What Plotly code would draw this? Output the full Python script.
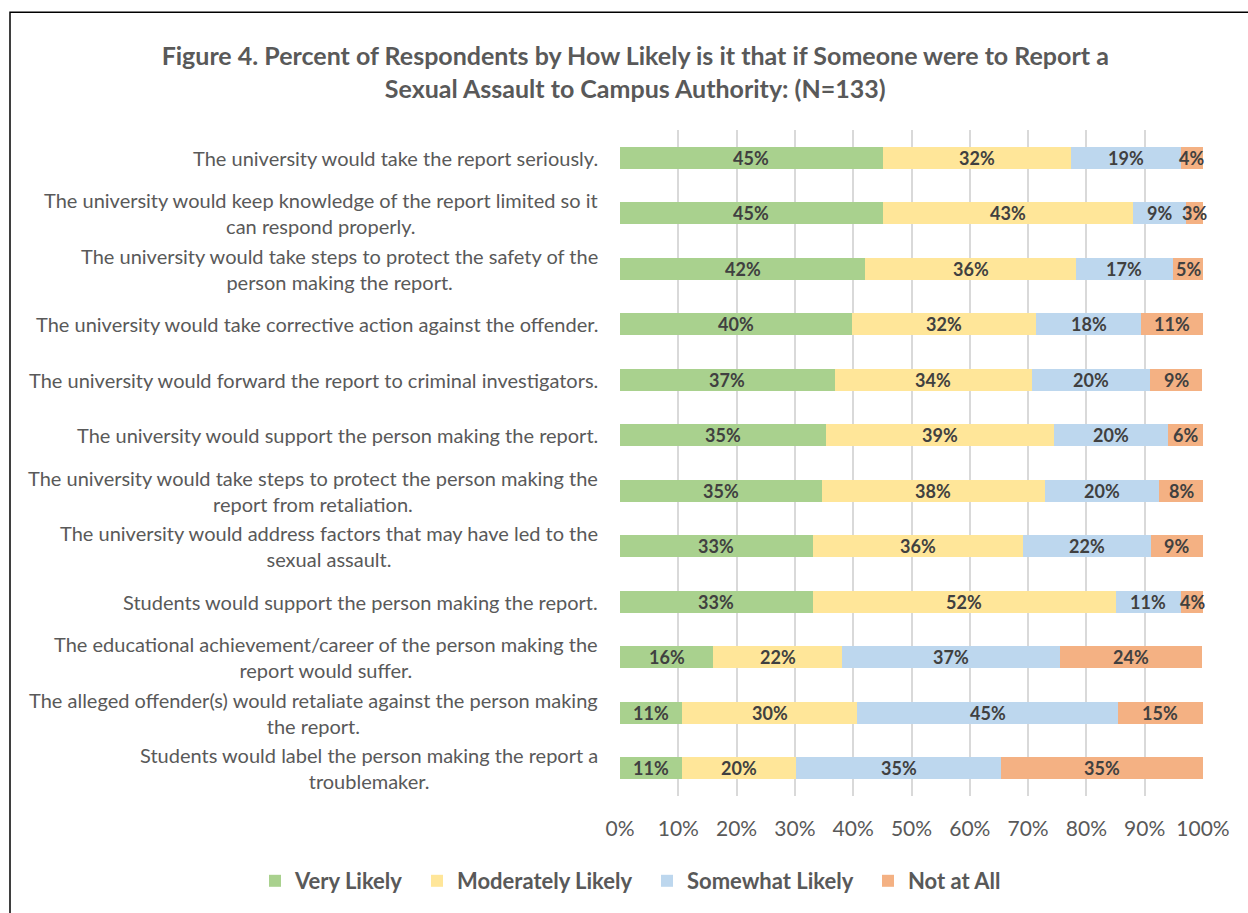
import plotly.graph_objects as go

categories = [
    "The university would take the report seriously.",
    "The university would keep knowledge of the report limited so it<br>can respond properly.",
    "The university would take steps to protect the safety of the<br>person making the report.",
    "The university would take corrective action against the offender.",
    "The university would forward the report to criminal investigators.",
    "The university would support the person making the report.",
    "The university would take steps to protect the person making the<br>report from retaliation.",
    "The university would address factors that may have led to the<br>sexual assault.",
    "Students would support the person making the report.",
    "The educational achievement/career of the person making the<br>report would suffer.",
    "The alleged offender(s) would retaliate against the person making<br>the report.",
    "Students would label the person making the report a<br>troublemaker.",
]

very_likely = [45.1, 45.1, 42.1, 39.8, 36.8, 35.3, 34.6, 33.1, 33.1, 16.0, 10.6, 10.6]
moderately_likely = [32.3, 42.9, 36.1, 31.6, 33.8, 39.1, 38.3, 36.1, 51.9, 22.1, 30.1, 19.6]
somewhat_likely = [18.8, 9.0, 16.6, 18.0, 20.3, 19.6, 19.6, 21.8, 11.3, 37.4, 44.7, 35.2]
not_at_all = [3.8, 3.0, 5.3, 10.6, 9.0, 6.0, 7.6, 9.0, 3.8, 24.4, 14.6, 34.6]

series_names = ["Very Likely", "Moderately Likely", "Somewhat Likely", "Not at All"]
series_values = [very_likely, moderately_likely, somewhat_likely, not_at_all]
colors = ["#A9D18E", "#FFE699", "#BDD7EE", "#F4B183"]

tick_vals = [0, 10, 20, 30, 40, 50, 60, 70, 80, 90, 100]

FONT = "Lato"
ids = list(range(len(categories)))

W, H = 1248, 913
L, R, T, B = 620, 45, 130, 116
pw, ph = W - L - R, H - T - B

legend_ids = ["legend", "legend2", "legend3", "legend4"]
legend_px = [255, 417, 647, 868]

fig = go.Figure()
for name, vals, col, lg in zip(series_names, series_values, colors, legend_ids):
    fig.add_trace(go.Bar(
        y=ids, x=vals, name=name, orientation="h",
        marker=dict(color=col, line=dict(width=0)),
        hoverinfo="skip", legend=lg,
    ))

# value labels, centred in each stacked segment
base = [0.0] * len(categories)
for vals in series_values:
    for i, (b, v) in enumerate(zip(base, vals)):
        fig.add_annotation(
            x=b + v / 2, y=i, xref="x", yref="y", text=f"{round(v)}%",
            showarrow=False, xanchor="center", yanchor="middle",
            font=dict(family=FONT, size=18, color="#404040", weight="bold"),
        )
    base = [b + v for b, v in zip(base, vals)]

for i, cat in enumerate(categories):
    fig.add_annotation(
        x=0, xref="paper", y=i, yref="y", text=cat, showarrow=False,
        xanchor="right", yanchor="middle", align="center", xshift=-20,
        font=dict(family=FONT, size=20, color="#595959"),
    )

fig.add_shape(type="rect", xref="paper", yref="paper",
              x0=(10 - L) / pw, x1=2.0, y0=-1.0, y1=(H - B - 12) / ph,
              line=dict(color="black", width=1.5), fillcolor="rgba(0,0,0,0)", layer="below")

legend_style = dict(orientation="h", xanchor="left", yref="paper", y=(H - B - 881) / ph,
                    yanchor="middle", bgcolor="rgba(0,0,0,0)",
                    font=dict(family=FONT, size=22, color="#595959", weight="bold"),
                    itemsizing="constant")
legends = {lg: dict(legend_style, x=(px - L) / pw) for lg, px in zip(legend_ids, legend_px)}

fig.update_layout(
    width=W, height=H,
    margin=dict(l=L, r=R, t=T, b=B),
    barmode="stack", bargap=0.6,
    plot_bgcolor="white", paper_bgcolor="white",
    title=dict(text="Figure 4. Percent of Respondents by How Likely is it that if Someone were to Report a<br>Sexual Assault to Campus Authority: (N=133)",
               x=0.509, xanchor="center", y=1 - 65 / H, yanchor="middle",
               font=dict(family=FONT, size=25, color="#595959", weight="bold")),
    xaxis=dict(range=[0, 100], tickvals=tick_vals, ticktext=[f"{v}%" for v in tick_vals],
               showgrid=True, gridcolor="#D9D9D9", gridwidth=1.5, zeroline=False,
               showline=False, ticks="", ticklabelstandoff=18,
               tickfont=dict(family=FONT, size=21, color="#595959"),
               fixedrange=True),
    yaxis=dict(showticklabels=False, showgrid=False, zeroline=False,
               range=[11.5, -0.5], ticks="", fixedrange=True),
    showlegend=True,
    **legends,
)

fig.write_html("out.html", config={"displayModeBar": False},
               post_script="document.body.style.margin='0';")
